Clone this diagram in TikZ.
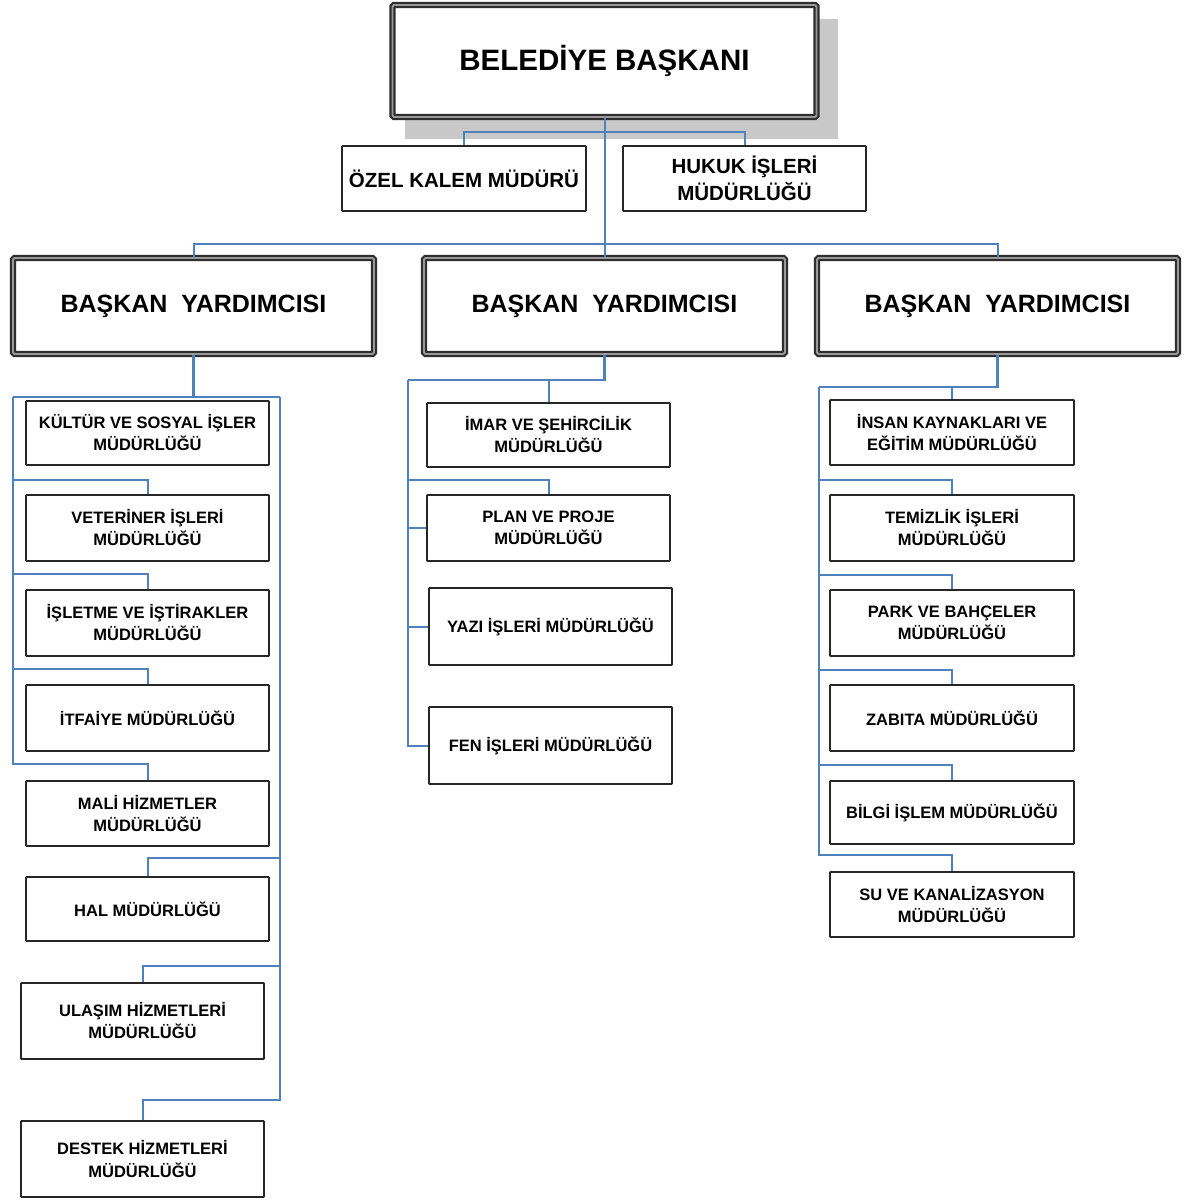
\documentclass[tikz,border=0pt]{standalone}
\usepackage{fontspec}
\setmainfont{Liberation Sans}
\usetikzlibrary{calc}
\definecolor{conblue}{HTML}{4F81BD}
\definecolor{shadowgray}{HTML}{C8C8C8}
\tikzset{
  unitbox/.style={draw=black!85, line width=1.9pt, fill=white, inner sep=0pt,
    align=center, minimum width=243pt, minimum height=65pt, rounded corners=0.8pt,
    font=\fontsize{16.5}{22}\selectfont\bfseries},
  midbox/.style={unitbox, font=\fontsize{20.5}{27}\selectfont\bfseries},
  dblbox/.style={draw=black!82, double=black!40, double distance=1.8pt, line width=2.2pt,
    fill=white, inner sep=0pt, align=center, rounded corners=1.5pt},
  conn/.style={draw=conblue, line width=2pt},
  busline/.style={draw=conblue, line width=2.8pt},
}
\begin{document}
\begin{tikzpicture}[x=1pt,y=-1pt]
\useasboundingbox (0,0) rectangle (1184,1200);
\fill[white] (0,0) rectangle (1184,1200);

% shadow of the top box
\fill[shadowgray] (405,19) rectangle (838,139);
% top
\node[dblbox, minimum width=424pt, minimum height=112pt,
  font=\fontsize{29.5}{34}\selectfont\bfseries] (top) at (604.5,61) {BELEDİYE BAŞKANI};

\node[midbox, minimum width=244pt, minimum height=65pt] (ozel) at (464,178.5) {ÖZEL KALEM MÜDÜRÜ};
\node[midbox, minimum width=243pt, minimum height=65pt] (hukuk) at (744.5,178.5) {HUKUK İŞLERİ\\MÜDÜRLÜĞÜ};

% vice presidents
\foreach \nm/\cx in {by1/193.5, by2/604.5, by3/997.5}{
  \node[dblbox, minimum width=361pt, minimum height=96pt,
    font=\fontsize{25}{30}\selectfont\bfseries] (\nm) at (\cx,306) {BAŞKAN\ \ YARDIMCISI};
}

% left column
\node[unitbox, minimum height=64pt] (kultur) at (147.5,433) {KÜLTÜR VE SOSYAL İŞLER\\MÜDÜRLÜĞÜ};
\node[unitbox, minimum height=66pt] (vet) at (147.5,528) {VETERİNER İŞLERİ\\MÜDÜRLÜĞÜ};
\node[unitbox, minimum height=66pt] (islet) at (147.5,623) {İŞLETME VE İŞTİRAKLER\\MÜDÜRLÜĞÜ};
\node[unitbox, minimum height=66pt] (itf) at (147.5,718) {İTFAİYE MÜDÜRLÜĞÜ};
\node[unitbox, minimum height=65pt] (mali) at (147.5,813.5) {MALİ HİZMETLER\\MÜDÜRLÜĞÜ};
\node[unitbox, minimum height=64pt] (hal) at (147.5,909) {HAL MÜDÜRLÜĞÜ};
\node[unitbox, minimum height=76pt] (ulas) at (142.5,1021) {ULAŞIM HİZMETLERİ\\MÜDÜRLÜĞÜ};
\node[unitbox, minimum height=76pt] (destek) at (142.5,1159) {DESTEK HİZMETLERİ\\MÜDÜRLÜĞÜ};

% middle column
\node[unitbox, minimum height=64pt] (imar) at (548.5,435) {İMAR VE ŞEHİRCİLİK\\MÜDÜRLÜĞÜ};
\node[unitbox, minimum height=66pt] (plan) at (548.5,528) {PLAN VE PROJE\\MÜDÜRLÜĞÜ};
\node[unitbox, minimum height=77pt] (yazi) at (550.5,626.5) {YAZI İŞLERİ MÜDÜRLÜĞÜ};
\node[unitbox, minimum height=77pt] (fen) at (550.5,745.5) {FEN İŞLERİ MÜDÜRLÜĞÜ};

% right column
\node[unitbox, minimum width=244pt, minimum height=65pt] (insan) at (952,432.5) {İNSAN KAYNAKLARI VE\\EĞİTİM MÜDÜRLÜĞÜ};
\node[unitbox, minimum width=244pt, minimum height=66pt] (temiz) at (952,528) {TEMİZLİK İŞLERİ\\MÜDÜRLÜĞÜ};
\node[unitbox, minimum width=244pt, minimum height=66pt] (park) at (952,623) {PARK VE BAHÇELER\\MÜDÜRLÜĞÜ};
\node[unitbox, minimum width=244pt, minimum height=66pt] (zabita) at (952,718) {ZABITA MÜDÜRLÜĞÜ};
\node[unitbox, minimum width=244pt, minimum height=63pt] (bilgi) at (952,812.5) {BİLGİ İŞLEM MÜDÜRLÜĞÜ};
\node[unitbox, minimum width=244pt, minimum height=65pt] (su) at (952,904.5) {SU VE KANALİZASYON\\MÜDÜRLÜĞÜ};

% bus coordinates
\coordinate (Lbus) at (13,397);
\coordinate (Rbus) at (280,397);
\coordinate (Mbus) at (408,380);
\coordinate (Tbus) at (819,387);

% top connectors
\draw[conn] (top.south) -- (by2.north);
\draw[conn] (ozel.north) -- ++(0,-13) -| (hukuk.north);
\draw[conn] (by1.north) -- ++(0,-13) -| (by3.north);

% left column connectors
\draw[busline] (by1.south) -- (by1.south |- Lbus);
\draw[conn] (Lbus) -- (Rbus);
\draw[conn] (vet.north) -- ++(0,-14) -| (Lbus);
\draw[conn] (islet.north) -- ++(0,-15) -| (Lbus);
\draw[conn] (itf.north) -- ++(0,-15) -| (Lbus);
\draw[conn] (mali.north) -- ++(0,-16) -| (Lbus);
\draw[conn] (hal.north) -- ++(0,-18) -| (Rbus);
\draw[conn] (ulas.north) -- ++(0,-16) -| (Rbus);
\draw[conn] (destek.north) -- ++(0,-20) -| (Rbus);

% middle column connectors
\draw[busline] (by2.south) |- (Mbus);
\draw[conn] (imar.north) -- (imar.north |- Mbus);
\draw[conn] (plan.north) -- ++(0,-14) -| (Mbus);
\draw[conn] (plan.west) -- (plan.west -| Mbus);
\draw[conn] (yazi.west) -- (yazi.west -| Mbus);
\draw[conn] (fen.west) -| (Mbus);
\draw[busline] (Mbus) -- ($(Mbus)+(0,110)$);

% right column connectors
\draw[busline] (by3.south) |- (Tbus);
\draw[conn] (insan.north) -- (insan.north |- Tbus);
\draw[conn] (temiz.north) -- ++(0,-14) -| (Tbus);
\draw[conn] (park.north) -- ++(0,-14) -| (Tbus);
\draw[conn] (zabita.north) -- ++(0,-14) -| (Tbus);
\draw[conn] (bilgi.north) -- ++(0,-15) -| (Tbus);
\draw[conn] (su.north) -- ++(0,-16) -| (Tbus);
\end{tikzpicture}
\end{document}
